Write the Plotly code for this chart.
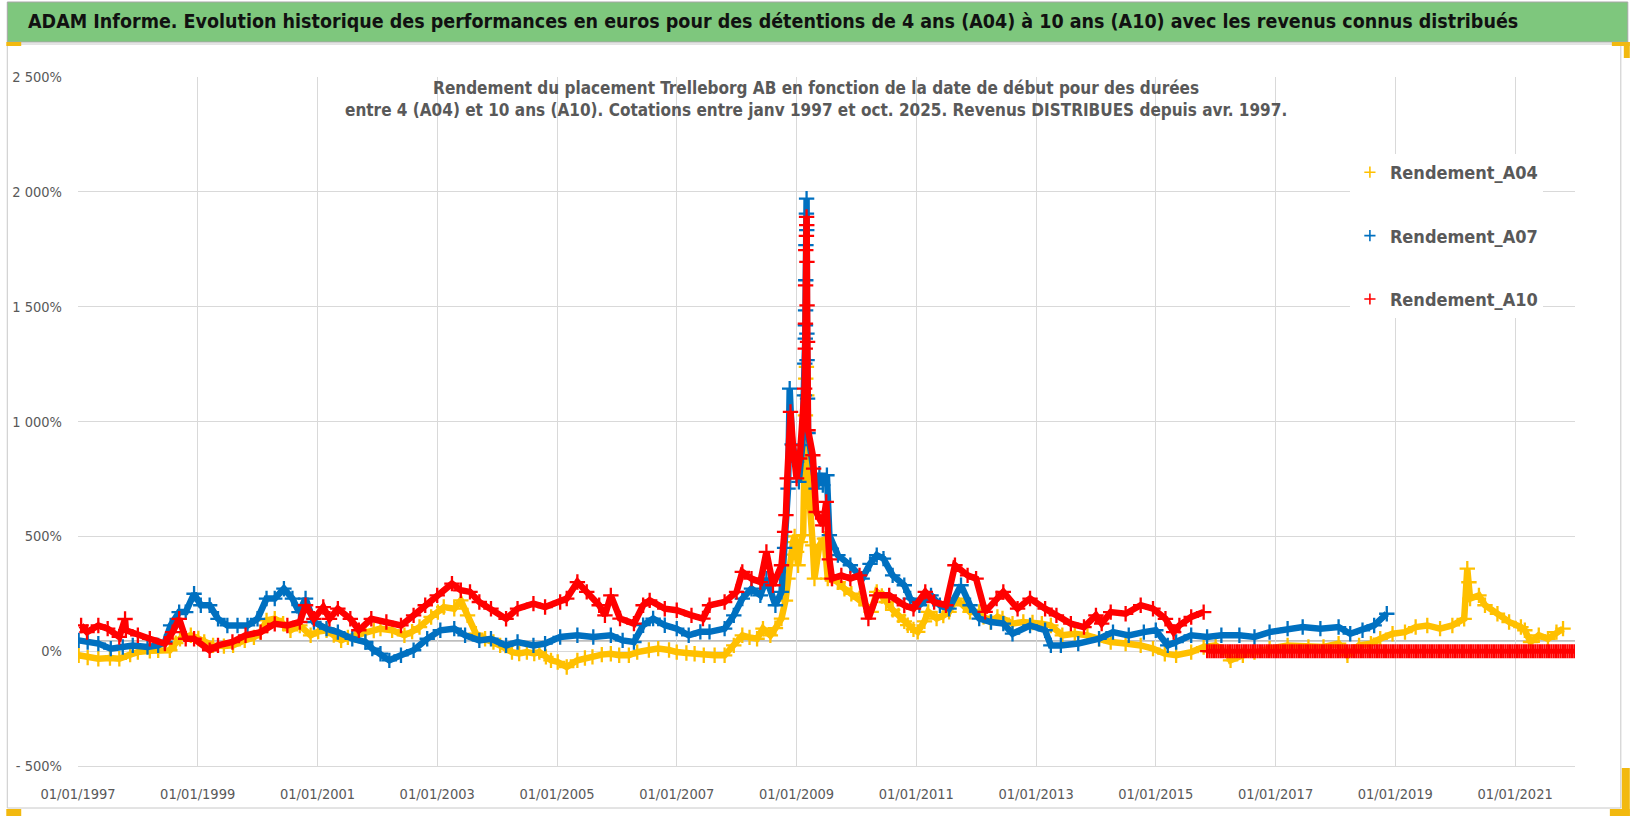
import plotly.graph_objects as go
import pandas as pd

# ---------------- data ----------------
A04 = [("1997-01-05",-18),("1997-03-01",-28),("1997-05-05",-33),("1997-07-15",-30),("1997-09-10",-33),("1997-11-15",-15),
("1998-01-01",-4),("1998-03-15",2),("1998-05-05",4),("1998-07-15",4),("1998-08-20",35),("1998-09-15",54),("1998-11-20",69),
("1999-01-05",55),("1999-02-10",40),("1999-04-05",25),("1999-06-10",22),("1999-08-05",25),("1999-10-15",47),("1999-12-10",60),
("2000-01-20",83),("2000-02-25",134),("2000-04-15",141),("2000-06-05",120),("2000-07-20",91),("2000-09-15",112),("2000-11-20",69),
("2001-01-05",85),("2001-02-25",91),("2001-04-10",70),("2001-05-25",47),("2001-07-05",60),("2001-08-20",69),("2001-10-20",83),("2001-12-10",90),
("2002-01-20",98),("2002-04-01",91),("2002-06-15",69),("2002-08-01",85),("2002-09-15",105),("2002-11-25",149),
("2003-01-05",170),("2003-02-10",192),("2003-04-15",185),("2003-05-25",221),("2003-07-05",156),("2003-08-25",76),("2003-10-20",54),("2003-12-10",40),
("2004-01-20",25),("2004-04-01",-4),("2004-05-15",-10),("2004-07-01",-4),("2004-08-15",-10),("2004-09-15",-4),("2004-10-25",-25),("2004-11-25",-40),
("2005-01-05",-47),("2005-03-01",-69),("2005-05-05",-40),("2005-06-20",-30),("2005-08-05",-25),("2005-10-01",-15),("2005-11-25",-11),
("2006-01-15",-18),("2006-03-15",-18),("2006-05-05",-4),("2006-07-15",5),("2006-09-10",11),("2006-11-15",5),
("2007-01-01",-4),("2007-03-01",-8),("2007-04-20",-11),("2007-06-15",-18),("2007-08-20",-18),("2007-10-20",-18),("2007-12-15",25),
("2008-02-05",69),("2008-03-20",60),("2008-05-05",54),("2008-06-10",98),("2008-07-25",69),("2008-08-25",100),("2008-10-01",142),
("2008-10-25",220),("2008-11-10",316),("2008-11-25",420),("2008-12-10",475),("2008-12-20",500),
("2009-01-01",432),("2009-01-10",374),("2009-01-25",475),("2009-02-10",505),("2009-02-24",1027),("2009-02-26",1187),
("2009-03-02",1238),("2009-03-04",1114),("2009-03-06",809),("2009-03-20",700),("2009-04-10",461),("2009-04-20",316),
("2009-05-20",461),("2009-06-20",490),("2009-07-10",316),("2009-08-05",316),("2009-09-10",300),("2009-10-20",272),("2009-12-01",250),
("2010-01-20",229),("2010-03-01",200),("2010-04-01",171),("2010-05-05",258),("2010-06-05",240),("2010-07-01",214),("2010-08-10",180),
("2010-09-15",156),("2010-10-20",130),("2010-11-10",113),("2010-12-15",95),
("2011-01-10",84),("2011-02-20",130),("2011-03-15",171),("2011-05-05",142),("2011-06-15",155),("2011-07-20",171),("2011-09-01",229),
("2011-10-20",200),("2011-11-25",171),
("2012-01-20",171),("2012-02-15",150),("2012-03-30",127),("2012-05-10",149),("2012-06-10",142),("2012-08-10",120),("2012-10-15",127),("2012-12-10",125),
("2013-02-05",120),("2013-04-01",112),("2013-06-10",69),("2013-08-25",76),("2013-11-10",69),
("2014-01-20",54),("2014-04-01",40),("2014-07-01",33),("2014-10-01",25),("2014-12-15",11),
("2015-02-25",-11),("2015-05-05",-18),("2015-08-05",-4),("2015-10-20",18),
("2016-01-01",25),("2016-03-15",-11),("2016-04-01",-40),("2016-06-15",-18),("2016-08-25",-4),("2016-11-25",11),
("2017-03-15",25),("2017-07-20",18),("2017-10-20",18),
("2018-01-20",33),("2018-03-15",-18),("2018-05-25",25),("2018-08-05",33),("2018-10-01",54),("2018-12-15",76),
("2019-03-01",83),("2019-05-05",105),("2019-07-15",112),("2019-10-01",98),("2019-12-15",112),
("2020-02-25",141),("2020-03-15",359),("2020-03-25",300),("2020-04-01",229),("2020-05-25",243),("2020-07-01",200),("2020-09-15",163),("2020-11-25",127),
("2021-02-05",105),("2021-03-01",91),("2021-04-05",40),("2021-05-25",69),("2021-07-20",54),("2021-09-10",83),("2021-10-20",98)]

A07 = [("1997-01-05",47),("1997-03-01",40),("1997-05-05",33),("1997-07-20",11),("1997-10-01",18),("1997-12-01",25),
("1998-03-01",18),("1998-05-05",25),("1998-06-15",40),("1998-07-20",112),("1998-09-10",170),("1998-10-20",170),("1998-12-10",250),
("1999-01-20",200),("1999-03-15",200),("1999-05-05",141),("1999-07-01",112),("1999-09-01",112),("1999-11-01",112),
("2000-01-01",141),("2000-02-25",229),("2000-04-15",229),("2000-06-10",272),("2000-08-01",229),("2000-09-10",170),("2000-10-20",229),("2000-12-10",127),
("2001-02-25",98),("2001-05-05",83),("2001-08-01",54),("2001-10-20",40),("2001-12-01",11),
("2002-01-20",-11),("2002-03-15",-40),("2002-05-25",-18),("2002-08-10",4),("2002-11-01",54),
("2003-01-20",91),("2003-04-15",98),("2003-06-20",69),("2003-09-15",47),("2003-11-25",54),
("2004-02-25",25),("2004-05-05",40),("2004-08-10",25),("2004-10-20",33),
("2005-01-20",62),("2005-05-05",69),("2005-08-10",62),("2005-11-25",69),
("2006-02-05",47),("2006-04-15",40),("2006-06-10",113),("2006-08-10",142),("2006-10-20",113),
("2007-01-01",98),("2007-03-15",69),("2007-05-25",84),("2007-07-20",84),("2007-10-20",98),("2007-12-15",156),
("2008-02-05",229),("2008-04-01",272),("2008-05-25",243),("2008-07-01",316),("2008-08-25",200),("2008-10-01",258),
("2008-10-20",450),("2008-11-10",708),("2008-11-20",1143),("2008-12-05",900),
("2009-01-01",824),("2009-01-15",737),("2009-02-05",897),("2009-02-18",1114),("2009-02-20",1252),("2009-02-23",1361),
("2009-02-24",1419),("2009-02-25",1484),("2009-02-26",1615),("2009-02-27",1768),("2009-03-02",1905),("2009-03-03",1970),
("2009-03-04",1833),("2009-03-05",1383),("2009-03-06",1267),("2009-03-09",1100),("2009-03-12",950),
("2009-04-30",708),("2009-05-20",773),("2009-06-10",723),("2009-07-05",766),("2009-07-20",505),
("2009-09-10",418),("2009-11-25",374),
("2010-02-05",316),("2010-03-25",380),("2010-05-05",418),("2010-06-15",403),("2010-08-10",330),("2010-10-20",287),("2010-11-25",229),
("2011-01-20",200),("2011-04-01",243),("2011-05-25",200),("2011-07-20",185),("2011-10-01",287),("2011-11-25",200),
("2012-01-20",142),("2012-04-01",127),("2012-06-15",120),("2012-08-10",76),("2012-11-25",112),
("2013-02-25",91),("2013-04-01",25),("2013-06-01",25),("2013-09-15",33),
("2014-01-20",54),("2014-04-15",83),("2014-07-20",69),("2014-10-20",83),
("2015-01-01",91),("2015-03-15",25),("2015-05-05",40),("2015-08-05",69),("2015-11-10",62),
("2016-02-05",69),("2016-05-25",69),("2016-08-25",62),("2016-11-25",83),
("2017-03-15",98),("2017-06-15",105),("2017-10-01",98),
("2018-01-20",105),("2018-04-01",76),("2018-06-15",91),("2018-08-25",112),("2018-11-10",163)]

A10 = [("1997-01-20",112),("1997-02-25",83),("1997-05-05",112),("1997-07-01",98),("1997-09-10",62),("1997-10-15",140),("1997-10-20",91),
("1998-01-01",69),("1998-03-15",54),("1998-06-15",33),("1998-08-01",83),("1998-09-10",141),("1998-10-20",54),("1998-12-10",54),
("1999-03-15",4),("1999-05-05",25),("1999-08-01",40),("1999-10-20",69),
("2000-01-20",83),("2000-04-15",119),("2000-07-01",112),("2000-09-15",127),("2000-10-20",200),("2000-12-10",141),
("2001-02-05",192),("2001-03-15",141),("2001-05-05",185),("2001-07-20",141),("2001-09-10",91),("2001-11-25",141),
("2002-02-25",127),("2002-05-25",112),("2002-08-10",156),("2002-10-20",200),
("2003-01-01",243),("2003-04-01",294),("2003-05-25",265),("2003-07-20",258),("2003-09-15",214),("2003-11-25",185),
("2004-02-25",141),("2004-05-05",185),("2004-08-10",207),("2004-10-20",192),
("2005-01-20",214),("2005-03-01",229),("2005-05-05",301),("2005-07-01",258),("2005-09-15",200),("2005-10-20",156),("2005-11-25",243),
("2006-01-20",142),("2006-04-15",120),("2006-06-10",200),("2006-07-20",221),("2006-10-20",185),
("2007-01-01",178),("2007-04-01",156),("2007-06-10",142),("2007-07-20",200),("2007-10-20",214),
("2008-01-01",258),("2008-02-05",345),("2008-04-01",316),("2008-05-25",301),("2008-07-01",432),("2008-08-10",287),("2008-10-01",374),
("2008-10-20",519),("2008-10-28",592),("2008-11-05",752),("2008-11-25",1042),("2008-12-10",897),
("2009-01-01",752),("2009-01-20",839),("2009-02-19",1143),("2009-02-23",1317),("2009-02-24",1426),("2009-02-25",1593),
("2009-02-26",1746),("2009-03-02",1808),("2009-03-03",1891),("2009-03-04",1855),("2009-03-05",1695),("2009-03-06",1506),
("2009-03-09",1347),("2009-03-12",962),("2009-04-10",853),("2009-04-15",795),("2009-04-30",606),("2009-06-10",548),
("2009-07-01",650),("2009-07-20",400),("2009-08-05",316),("2009-10-01",330),("2009-11-25",316),
("2010-01-20",330),("2010-03-15",142),("2010-05-05",243),("2010-07-20",243),("2010-10-20",200),("2010-12-15",185),
("2011-02-25",258),("2011-04-20",214),("2011-07-01",200),("2011-08-25",374),("2011-11-10",330),
("2012-01-01",316),("2012-02-25",171),("2012-05-05",229),("2012-06-15",258),("2012-09-10",185),("2012-11-25",229),
("2013-02-25",185),("2013-05-05",156),("2013-08-01",120),("2013-10-20",105),
("2014-01-01",156),("2014-02-05",120),("2014-04-01",170),("2014-07-01",163),("2014-10-01",200),("2014-12-15",185),
("2015-03-01",141),("2015-04-20",83),("2015-05-25",112),("2015-08-05",149),("2015-10-20",170)]

# A10 reads 0 % from Nov. 2015 to the end of 2021 (no 10-year horizon available)
A10_ZERO_START, A10_ZERO_END = "2015-11-10", "2021-12-31"

TICK_VALS = [-500, 0, 500, 1000, 1500, 2000, 2500]
TICK_TEXT = ["- 500%", "0%", "500%", "1 000%", "1 500%", "2 000%", "2 500%"]
SERIES = ["Rendement_A04", "Rendement_A07", "Rendement_A10"]
COLORS = ["#FFC000", "#0070C0", "#FF0000"]

TITLE = ("ADAM Informe. Evolution historique des performances en euros pour des détentions "
         "de 4 ans (A04) à 10 ans (A10) avec les revenus connus distribués")
SUBTITLE = ("Rendement du placement Trelleborg AB en fonction de la date de début pour des durées<br>"
            "entre 4 (A04) et 10 ans (A10). Cotations entre janv 1997 et oct. 2025. Revenus DISTRIBUES depuis avr. 1997.")

# ---------------- figure ----------------
W, H = 1630, 816
L, R, T, B = 72, 1575, 77, 766
FONT = "DejaVu Sans Condensed, Liberation Sans Narrow, sans-serif"
GRAY = "#595959"

def px(x):
    return (x - L) / (R - L)

def py(y):
    return (B - y) / (B - T)

zero_dates = list(pd.date_range(A10_ZERO_START, A10_ZERO_END, freq="14D"))
data = [
    ([d for d, _ in A04], [v for _, v in A04]),
    ([d for d, _ in A07], [v for _, v in A07]),
    ([d for d, _ in A10], [v for _, v in A10]),
]

def cross(col, size=11, lw=2.3):
    return dict(symbol="cross-thin", size=size, color=col, line=dict(width=lw, color=col))

fig = go.Figure()
for (xs, ys), name, col in zip(data, SERIES, COLORS):
    fig.add_trace(go.Scatter(x=xs, y=ys, mode="lines+markers", name=name, legendgroup=name,
                             showlegend=False, line=dict(color=col, width=6.5), marker=cross(col)))
fig.add_trace(go.Scatter(x=zero_dates, y=[0] * len(zero_dates), mode="lines+markers", name=SERIES[2],
                         legendgroup=SERIES[2], showlegend=False,
                         line=dict(color=COLORS[2], width=5), marker=cross(COLORS[2], 10, 2.2)))
# legend entries: small "+" symbols like the reference
for name, col in zip(SERIES, COLORS):
    fig.add_trace(go.Scatter(x=[None], y=[None], mode="markers", name=name, legendgroup=name,
                             marker=cross(col, 8, 1.6)))

GOLD = "#F2B90F"
shapes = [
    dict(type="rect", xref="paper", yref="paper", x0=px(1), x1=px(1621), y0=py(44), y1=py(808),
         line=dict(color="#c8c8c8", width=1), fillcolor="rgba(0,0,0,0)", layer="below"),
    dict(type="rect", xref="paper", yref="paper", x0=px(1), x1=px(1628), y0=py(2), y1=py(42),
         line=dict(color="#a6a6a6", width=1), fillcolor="#7EC77D", layer="below"),
    dict(type="rect", xref="paper", yref="paper", x0=px(0), x1=px(15), y0=py(42), y1=py(46),
         line=dict(width=0), fillcolor=GOLD, layer="above"),
    dict(type="rect", xref="paper", yref="paper", x0=px(1612), x1=px(1630), y0=py(42), y1=py(46),
         line=dict(width=0), fillcolor=GOLD, layer="above"),
    dict(type="rect", xref="paper", yref="paper", x0=px(1624), x1=px(1630), y0=py(42), y1=py(58),
         line=dict(width=0), fillcolor=GOLD, layer="above"),
    dict(type="rect", xref="paper", yref="paper", x0=px(0), x1=px(15), y0=py(809), y1=py(816),
         line=dict(width=0), fillcolor=GOLD, layer="above"),
    dict(type="rect", xref="paper", yref="paper", x0=px(1622), x1=px(1630), y0=py(768), y1=py(816),
         line=dict(width=0), fillcolor=GOLD, layer="above"),
    dict(type="rect", xref="paper", yref="paper", x0=px(1610), x1=px(1630), y0=py(809), y1=py(816),
         line=dict(width=0), fillcolor=GOLD, layer="above"),
    dict(type="rect", xref="paper", yref="paper", x0=px(340), x1=px(1284), y0=py(70), y1=py(132),
         line=dict(width=0), fillcolor="white", layer="between"),
    dict(type="rect", xref="paper", yref="paper", x0=px(1330), x1=px(1576), y0=py(143), y1=py(333),
         line=dict(width=0), fillcolor="white", layer="between"),
    dict(type="line", xref="paper", yref="y", x0=0, x1=1, y0=45, y1=45,
         line=dict(color="#bfbfbf", width=1.8), layer="between"),
]

annotations = [
    dict(text=TITLE, xref="paper", yref="paper", x=px(20), y=py(22), xanchor="left", yanchor="middle",
         showarrow=False, font=dict(family=FONT, size=19.5, color="#111111", weight="bold")),
    dict(text=SUBTITLE, xref="paper", yref="paper", x=px(813), y=py(99), xanchor="center", yanchor="middle",
         showarrow=False, align="center", font=dict(family=FONT, size=17, color=GRAY, weight="bold")),
]

fig.update_layout(
    width=W, height=H,
    margin=dict(l=L, r=W - R, t=T, b=H - B, pad=0),
    paper_bgcolor="white", plot_bgcolor="white",
    font=dict(family=FONT, color=GRAY),
    shapes=shapes, annotations=annotations,
    showlegend=True,
    legend=dict(x=px(1349), y=py(154), xanchor="left", yanchor="top", bgcolor="white",
                font=dict(family=FONT, size=18, color=GRAY, weight="bold"),
                tracegroupgap=37, itemsizing="trace"),
    xaxis=dict(type="date", range=["1997-01-01", "2022-01-01"], tick0="1997-01-01", dtick="M24",
               tickformat="%d/%m/%Y", showgrid=True, gridcolor="#d9d9d9", gridwidth=1.3,
               showline=True, linecolor="#d9d9d9", linewidth=1.3, zeroline=False, ticks="",
               tickfont=dict(family=FONT, size=14.5, color=GRAY), ticklabelstandoff=14),
    yaxis=dict(range=[-500, 2500], tickvals=TICK_VALS, ticktext=TICK_TEXT, showgrid=True,
               gridcolor="#d9d9d9", gridwidth=1.3, zeroline=False, showline=False, ticks="",
               tickfont=dict(family=FONT, size=14.5, color=GRAY), ticklabelstandoff=15),
)

fig.write_html("out.html", config={"displayModeBar": False},
               post_script="document.body.style.margin='0';document.body.style.overflow='hidden';")
